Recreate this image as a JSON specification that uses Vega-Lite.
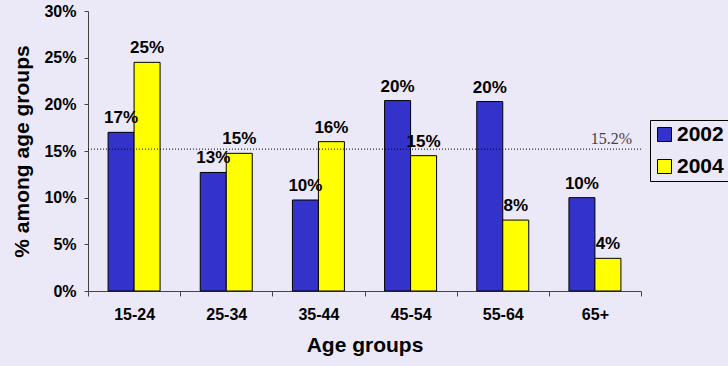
{
  "$schema": "https://vega.github.io/schema/vega-lite/v6.json",
  "width": 553,
  "height": 280,
  "autosize": "none",
  "padding": {"left": 88, "top": 11, "right": 87, "bottom": 75},
  "background": "#ebe8f7",
  "config": {
    "view": {"stroke": null},
    "font": "Liberation Sans",
    "axis": {"grid": false, "domainColor": "#444444", "tickColor": "#444444", "labelFont": "Liberation Sans", "labelFontWeight": "bold", "labelFontSize": 16, "labelColor": "#000000", "titleFont": "Liberation Sans", "titleFontWeight": "bold", "titleFontSize": 21, "titleColor": "#000000"}
  },
  "datasets": {
    "bars": [
      {"age": "15-24", "year": "2002", "value": 0.170, "label": "17%"},
      {"age": "15-24", "year": "2004", "value": 0.245, "label": "25%"},
      {"age": "25-34", "year": "2002", "value": 0.127, "label": "13%"},
      {"age": "25-34", "year": "2004", "value": 0.1475, "label": "15%"},
      {"age": "35-44", "year": "2002", "value": 0.0975, "label": "10%"},
      {"age": "35-44", "year": "2004", "value": 0.160, "label": "16%"},
      {"age": "45-54", "year": "2002", "value": 0.204, "label": "20%"},
      {"age": "45-54", "year": "2004", "value": 0.145, "label": "15%"},
      {"age": "55-64", "year": "2002", "value": 0.203, "label": "20%"},
      {"age": "55-64", "year": "2004", "value": 0.076, "label": "8%"},
      {"age": "65+", "year": "2002", "value": 0.100, "label": "10%"},
      {"age": "65+", "year": "2004", "value": 0.035, "label": "4%"}
    ],
    "ref": [{"value": 0.152, "label": "15.2%"}]
  },
  "layer": [
    {
      "data": {"name": "bars"},
      "mark": {"type": "bar", "stroke": "#000000", "strokeWidth": 1},
      "encoding": {
        "x": {"field": "age", "type": "nominal", "sort": null,
              "scale": {"paddingInner": 0, "paddingOuter": 0},
              "axis": {"title": "Age groups", "labelAngle": 0, "tickBand": "extent", "tickSize": 5, "labelPadding": 10, "titlePadding": 12}},
        "xOffset": {"field": "year", "type": "nominal", "scale": {"paddingInner": 0, "paddingOuter": 0.773}},
        "y": {"field": "value", "type": "quantitative",
              "scale": {"domain": [0, 0.3]},
              "axis": {"title": "% among age groups", "values": [0, 0.05, 0.1, 0.15, 0.2, 0.25, 0.3], "format": ".0%", "tickSize": 4, "labelPadding": 8, "titlePadding": 11}},
        "color": {"field": "year", "type": "nominal",
                  "scale": {"domain": ["2002", "2004"], "range": ["#3333cc", "#ffff00"]},
                  "legend": {"title": null, "orient": "none", "legendX": 562, "legendY": 109, "strokeColor": "#000000", "fillColor": "#ebe8f7", "padding": 4, "symbolType": "square", "symbolSize": 196, "symbolStrokeColor": "#000000", "symbolStrokeWidth": 1, "symbolOpacity": 1, "labelFont": "Liberation Sans", "labelFontWeight": "bold", "labelFontSize": 21, "labelColor": "#000000", "rowPadding": 10, "labelOffset": 2}}
      }
    },
    {
      "data": {"name": "bars"},
      "mark": {"type": "text", "baseline": "alphabetic", "dy": -9, "fontWeight": "bold", "fontSize": 17, "font": "Liberation Sans", "color": "#000000"},
      "encoding": {
        "x": {"field": "age", "type": "nominal", "sort": null},
        "xOffset": {"field": "year", "type": "nominal"},
        "y": {"field": "value", "type": "quantitative"},
        "text": {"field": "label"}
      }
    },
    {
      "data": {"name": "ref"},
      "mark": {"type": "rule", "strokeDash": [1, 2], "color": "#000000", "strokeWidth": 1},
      "encoding": {
        "y": {"field": "value", "type": "quantitative"}
      }
    },
    {
      "data": {"name": "ref"},
      "mark": {"type": "text", "align": "right", "baseline": "alphabetic", "dx": -9, "dy": -5, "font": "Liberation Serif", "fontSize": 16, "color": "#444444"},
      "encoding": {
        "x": {"datum": "65+", "type": "nominal", "bandPosition": 1},
        "y": {"field": "value", "type": "quantitative"},
        "text": {"field": "label"}
      }
    }
  ]
}
